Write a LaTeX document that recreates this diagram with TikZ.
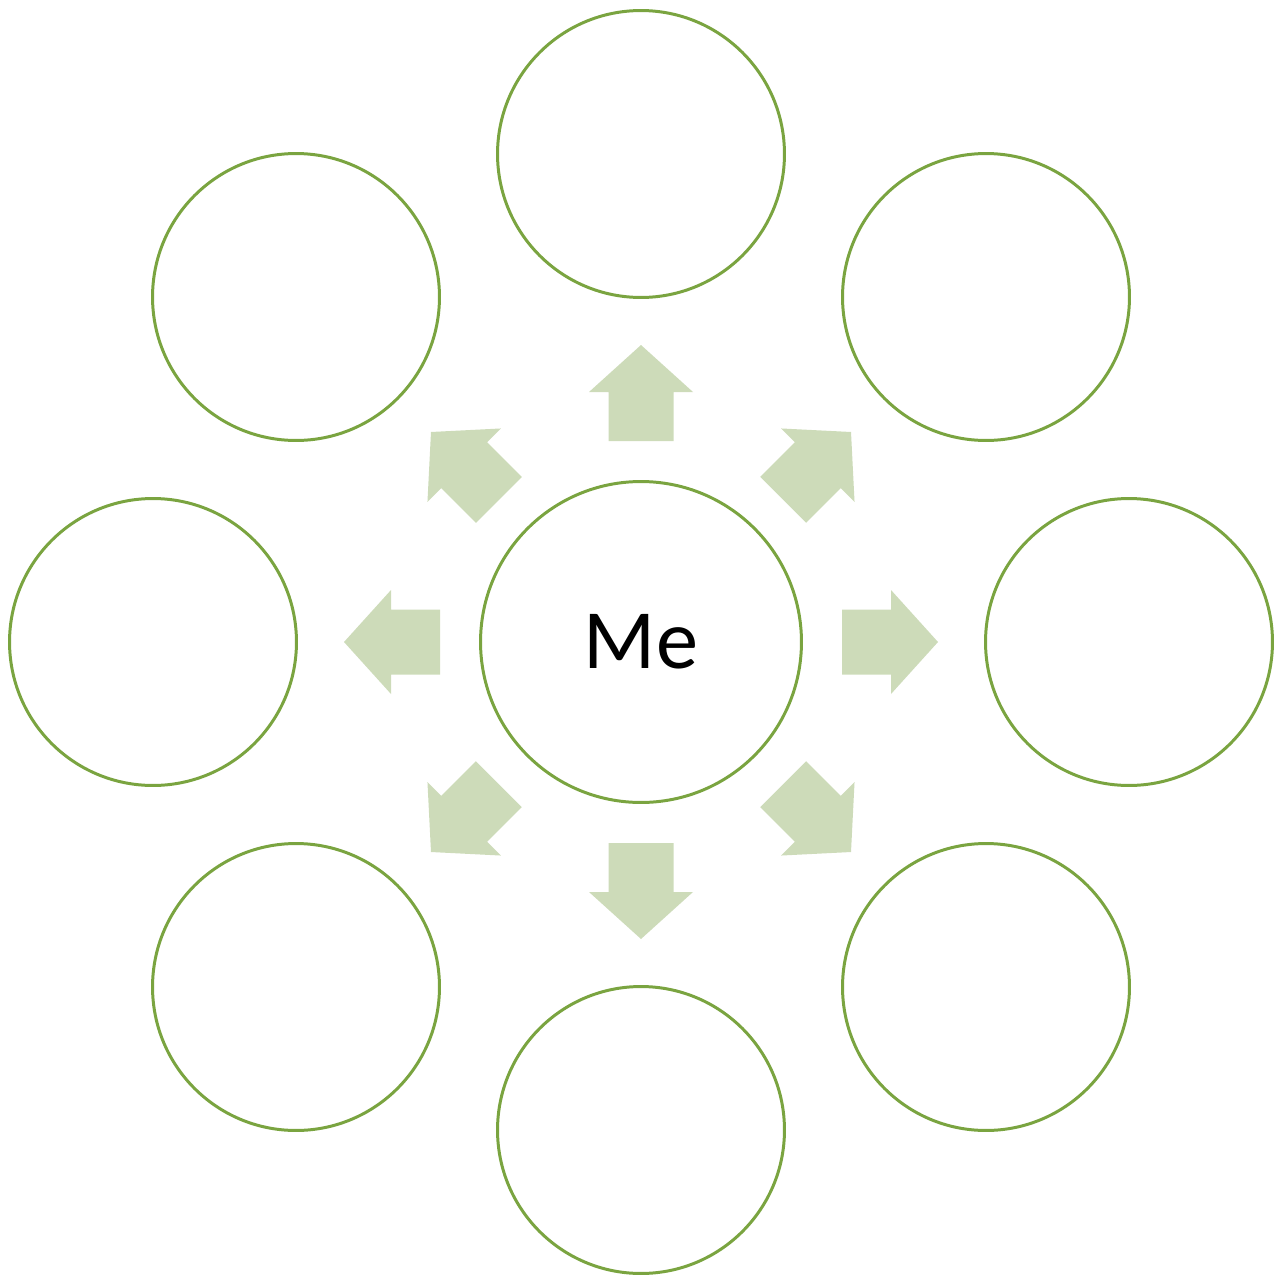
\documentclass[tikz,border=0pt]{standalone}
\usepackage{fontspec}
\setmainfont{Carlito}
\definecolor{ringgreen}{RGB}{122,164,64}
\definecolor{arrowgreen}{RGB}{205,219,185}
\begin{document}
\begin{tikzpicture}[x=0.02cm,y=-0.02cm,
  ring/.style={circle,draw=ringgreen,line width=1.7pt,inner sep=0pt,fill=white},
  outer/.style={ring,minimum size=5.74cm},
  blockarrow/.style={fill=arrowgreen,draw=none}]
\useasboundingbox (0,0) rectangle (1282,1278);
\node[ring,minimum size=6.42cm,font=\fontsize{48}{56}\selectfont] (me) at (641,642) {Me};
\node[outer] (n) at (641,154) {};
\node[outer] (ne) at (986,297) {};
\node[outer] (e) at (1129,642) {};
\node[outer] (se) at (986,987) {};
\node[outer] (s) at (641,1130) {};
\node[outer] (sw) at (296,987) {};
\node[outer] (w) at (153,642) {};
\node[outer] (nw) at (296,297) {};
\foreach \a in {0,45,...,315}{
  \begin{scope}[rotate around={\a:(me.center)}]
    \fill[blockarrow] (608.5,441) -- (608.5,392) -- (589,392) -- (641,345)
      -- (693,392) -- (673.5,392) -- (673.5,441) -- cycle;
  \end{scope}
}
\end{tikzpicture}
\end{document}
